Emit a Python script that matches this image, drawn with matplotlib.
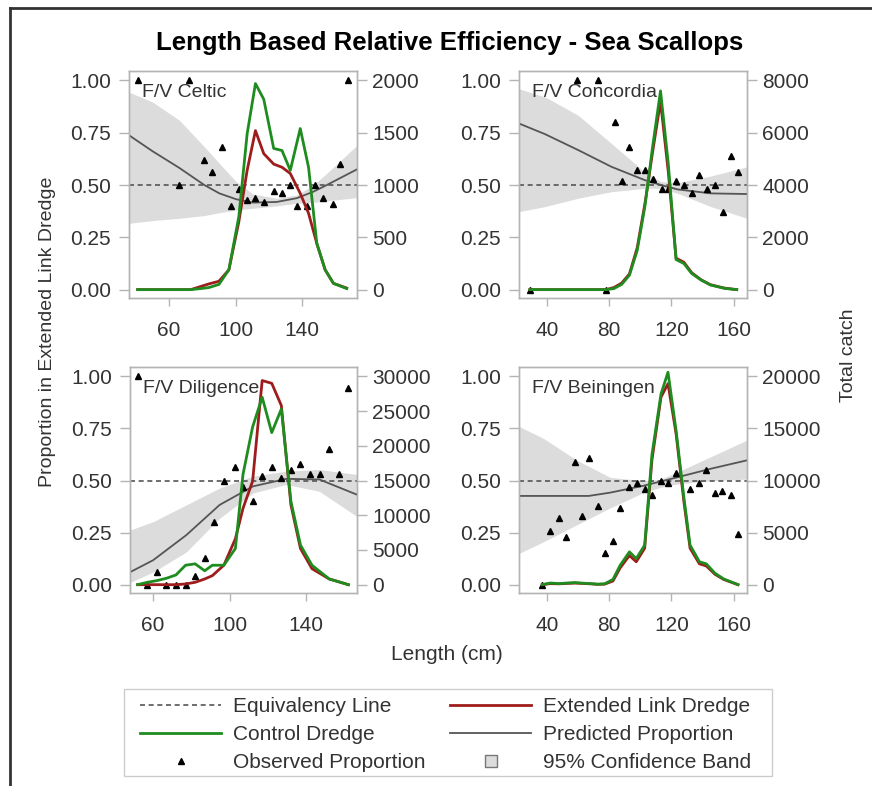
import numpy as np
import matplotlib
matplotlib.use("Agg")
import matplotlib.pyplot as plt
from matplotlib.lines import Line2D
from matplotlib.patches import Rectangle

plt.rcParams['font.family'] = ['Liberation Sans', 'DejaVu Sans']

# ---------------- data ----------------
# F/V Celtic
celtic_obs_len = [41, 66, 72, 81, 86, 92, 97, 102, 107, 112, 117, 123, 128, 133, 137, 143, 148, 153, 159, 163, 168]
celtic_obs_prop = [1.0, 0.50, 1.0, 0.62, 0.56, 0.68, 0.40, 0.48, 0.43, 0.44, 0.42, 0.47, 0.46, 0.50, 0.40, 0.40,
                   0.50, 0.44, 0.41, 0.60, 1.0]
celtic_fit_len = [35.8, 49.9, 66.1, 81.2, 90.3, 100.4, 110.5, 124.7, 136.8, 146.9, 155.0, 173.2]
celtic_fit = [0.738, 0.662, 0.582, 0.50, 0.46, 0.432, 0.416, 0.419, 0.437, 0.468, 0.50, 0.575]
celtic_upper = [0.944, 0.897, 0.81, 0.683, 0.603, 0.516, 0.457, 0.437, 0.452, 0.50, 0.556, 0.69]
celtic_lower = [0.317, 0.33, 0.341, 0.354, 0.368, 0.381, 0.389, 0.40, 0.413, 0.417, 0.424, 0.44]
celtic_len = [41, 73, 79, 84, 90, 96, 102, 107, 112, 117, 123, 128, 133, 139, 144, 149, 154, 159, 167]
celtic_ext = [0, 0, 30, 55, 80, 190, 650, 1140, 1520, 1300, 1200, 1170, 1110, 920, 730, 440, 190, 60, 15]
celtic_ctl = [0, 0, 10, 20, 50, 190, 700, 1490, 1970, 1820, 1350, 1330, 1140, 1540, 1170, 440, 190, 60, 10]

# F/V Concordia
concordia_obs_len = [29, 59, 73, 78, 84, 88, 93, 98, 103, 108, 114, 118, 123, 128, 133, 138, 143, 148, 153, 158, 163]
concordia_obs_prop = [0.0, 1.0, 1.0, 0.0, 0.80, 0.52, 0.68, 0.57, 0.57, 0.53, 0.48, 0.48, 0.52, 0.50, 0.46, 0.55,
                      0.48, 0.50, 0.37, 0.64, 0.56]
concordia_fit_len = [22, 38.8, 60.1, 81.5, 102.7, 113.4, 124, 145.3, 168.6]
concordia_fit = [0.794, 0.743, 0.667, 0.587, 0.524, 0.50, 0.479, 0.46, 0.457]
concordia_upper = [0.96, 0.921, 0.833, 0.698, 0.563, 0.516, 0.511, 0.543, 0.587]
concordia_lower = [0.373, 0.397, 0.437, 0.468, 0.484, 0.484, 0.46, 0.397, 0.341]
concordia_len = [29, 78, 83, 88, 93, 98, 103, 108, 113, 118, 123, 128, 133, 139, 145, 154, 162]
concordia_ext = [0, 0, 80, 250, 600, 1600, 3300, 5300, 7200, 4500, 1200, 1050, 650, 380, 190, 60, 0]
concordia_ctl = [0, 0, 40, 200, 550, 1500, 3200, 5500, 7600, 4800, 1150, 1000, 620, 370, 180, 50, 0]

# F/V Diligence
diligence_obs_len = [52, 57, 62, 67, 72, 77, 82, 87, 92, 97, 103, 107, 112, 117, 122, 127, 132, 137, 142, 147, 152,
                     157, 162]
diligence_obs_prop = [1.0, 0.0, 0.06, 0.0, 0.0, 0.0, 0.04, 0.13, 0.30, 0.50, 0.565, 0.47, 0.40, 0.52, 0.565, 0.51,
                      0.55, 0.58, 0.53, 0.53, 0.65, 0.53, 0.945]
diligence_fit_len = [48, 60, 77.4, 94.8, 112.2, 129.6, 146.9, 166.5]
diligence_fit = [0.06, 0.117, 0.238, 0.383, 0.472, 0.508, 0.505, 0.432]
diligence_upper = [0.262, 0.302, 0.383, 0.464, 0.521, 0.545, 0.553, 0.529]
diligence_lower = [0.011, 0.06, 0.157, 0.319, 0.44, 0.481, 0.448, 0.327]
diligence_len = [52, 57, 62, 67, 72, 77, 82, 87, 91, 97, 103, 107, 112, 117, 122, 127, 132, 137, 143, 152, 162]
diligence_ext = [0, 0, 0, 0, 0, 100, 340, 820, 1300, 2800, 6600, 11000, 14900, 29400, 29000, 25800, 11500, 5200,
                 2300, 820, 0]
diligence_ctl = [0, 340, 580, 920, 1400, 2800, 3000, 2000, 2800, 2800, 5200, 15900, 22700, 27000, 21900, 25300,
                 12000, 5700, 2800, 820, 0]

# F/V Beiningen
beiningen_obs_len = [37, 42, 47.5, 52, 58, 62.5, 67, 72.6, 77, 82.4, 87, 93, 98, 103, 107.5, 113, 118, 123, 132,
                     138, 142, 148, 152.5, 158, 163]
beiningen_obs_prop = [0.0, 0.26, 0.32, 0.23, 0.59, 0.33, 0.61, 0.38, 0.15, 0.21, 0.37, 0.47, 0.49, 0.46, 0.43, 0.50,
                      0.49, 0.535, 0.46, 0.49, 0.55, 0.44, 0.45, 0.43, 0.245]
beiningen_fit_len = [22, 66.8, 80.7, 102.1, 123.6, 145, 168.6]
beiningen_fit = [0.426, 0.426, 0.442, 0.475, 0.515, 0.556, 0.597]
beiningen_band_len = [22, 37.8, 59.3, 80.7, 102.1, 112.8, 123.6, 145, 168.6]
beiningen_upper = [0.76, 0.702, 0.597, 0.515, 0.499, 0.505, 0.54, 0.613, 0.694]
beiningen_lower = [0.15, 0.206, 0.288, 0.369, 0.442, 0.467, 0.483, 0.499, 0.507]
beiningen_len = [37, 42, 47.5, 53, 58, 62.5, 68, 72.6, 77, 82.4, 87, 93, 97.4, 102.8, 107.5, 113.3, 117.8, 123, 128,
                 132, 138, 142.4, 148, 153.6, 162.8]
beiningen_ext = [0, 100, 80, 120, 150, 120, 80, 30, 50, 350, 1600, 2800, 2200, 3500, 12000, 18000, 19300, 14500,
                 8000, 3500, 2000, 1800, 1000, 500, 0]
beiningen_ctl = [0, 160, 100, 160, 200, 150, 100, 50, 80, 500, 1850, 3150, 2500, 3800, 12500, 18300, 20400, 14800,
                 8400, 3800, 2200, 2000, 1100, 550, 0]

prop_ticks = [0.0, 0.25, 0.5, 0.75, 1.0]

# ---------------- styling ----------------
W, H = 872, 786
RED = '#9e1c1c'
GREEN = '#1f8c1f'
BAND = '#dcdcdc'
FIT = '#555555'
SPINE = '#b4b4b4'
TXT = '#333333'
FS = 15
YLIM = (-0.04, 1.045)

fig = plt.figure(figsize=(W / 100, H / 100), dpi=100)


def box(l, t, r, b):
    return [l / W, 1 - b / H, (r - l) / W, (b - t) / H]


def draw_panel(rect, name, xlim, xticks, cticks, obs_len, obs_prop, fit_len, fit, band_len, upper, lower,
               cat_len, ext, ctl):
    ax = fig.add_axes(box(*rect))
    ax.fill_between(band_len, lower, upper, color=BAND, lw=0, zorder=1)
    ax.axhline(0.5, color=FIT, lw=1.2, ls=(0, (3, 2.2)), zorder=2)
    ax.plot(fit_len, fit, color=FIT, lw=1.3, zorder=3)
    ax.plot(obs_len, obs_prop, ls='none', marker='^', ms=4.8, color='black', zorder=4)
    ax.set_xlim(xlim)
    ax.set_ylim(YLIM)
    ax.set_xticks(xticks)
    ax.set_yticks(prop_ticks)
    ax.set_yticklabels([f'{v:.2f}' for v in prop_ticks])
    ax.tick_params(axis='x', length=6, width=1, color=SPINE, pad=10.5, labelsize=FS, labelcolor=TXT)
    ax.tick_params(axis='y', length=7, width=1, color=SPINE, pad=6, labelsize=FS, labelcolor=TXT)
    ax.text(0.057, 0.905, name, transform=ax.transAxes, fontsize=14, color=TXT, va='center', ha='left', zorder=5)

    ax2 = ax.twinx()
    cmax = cticks[-1]
    ax2.set_ylim(YLIM[0] * cmax, YLIM[1] * cmax)
    ax2.plot(cat_len, ext, color=RED, lw=2.0)
    ax2.plot(cat_len, ctl, color=GREEN, lw=2.0)
    ax2.set_yticks(cticks)
    ax2.set_yticklabels([str(v) for v in cticks])
    ax2.tick_params(axis='y', length=7, width=1, color=SPINE, pad=4, labelsize=FS, labelcolor=TXT)
    for a in (ax, ax2):
        for s in a.spines.values():
            s.set_color(SPINE)
            s.set_linewidth(1.0)


draw_panel((129, 71, 357, 298), 'F/V Celtic', (35.8, 173.2), [60, 100, 140], [0, 500, 1000, 1500, 2000],
           celtic_obs_len, celtic_obs_prop, celtic_fit_len, celtic_fit, celtic_fit_len, celtic_upper, celtic_lower,
           celtic_len, celtic_ext, celtic_ctl)
draw_panel((519, 71, 747, 298), 'F/V Concordia', (22, 168.6), [40, 80, 120, 160], [0, 2000, 4000, 6000, 8000],
           concordia_obs_len, concordia_obs_prop, concordia_fit_len, concordia_fit, concordia_fit_len,
           concordia_upper, concordia_lower, concordia_len, concordia_ext, concordia_ctl)
draw_panel((130, 367, 357, 593), 'F/V Diligence', (48, 166.5), [60, 100, 140],
           [0, 5000, 10000, 15000, 20000, 25000, 30000],
           diligence_obs_len, diligence_obs_prop, diligence_fit_len, diligence_fit, diligence_fit_len,
           diligence_upper, diligence_lower, diligence_len, diligence_ext, diligence_ctl)
draw_panel((519, 367, 747, 593), 'F/V Beiningen', (22, 168.6), [40, 80, 120, 160],
           [0, 5000, 10000, 15000, 20000],
           beiningen_obs_len, beiningen_obs_prop, beiningen_fit_len, beiningen_fit, beiningen_band_len,
           beiningen_upper, beiningen_lower, beiningen_len, beiningen_ext, beiningen_ctl)

# titles and axis labels
fig.text(450 / W, 1 - 43 / H, 'Length Based Relative Efficiency - Sea Scallops', fontsize=18.5, fontweight='bold',
         ha='center', va='center', color='black')
fig.text(48 / W, 1 - 332 / H, 'Proportion in Extended Link Dredge', rotation=90, fontsize=14, color=TXT,
         ha='center', va='center')
fig.text(848 / W, 1 - 355 / H, 'Total catch', rotation=90, fontsize=14, color=TXT, ha='center', va='center')
fig.text(447 / W, 1 - 655 / H, 'Length (cm)', fontsize=15, color=TXT, ha='center', va='center')

# legend
handles = [
    Line2D([], [], color=FIT, lw=1.2, ls=(0, (3, 2.2))),
    Line2D([], [], color=GREEN, lw=2.0),
    Line2D([], [], ls='none', marker='^', ms=4.5, color='black'),
    Line2D([], [], color=RED, lw=2.0),
    Line2D([], [], color=FIT, lw=1.3),
    Line2D([], [], ls='none', marker='s', ms=9, mfc=BAND, mec='#777777', mew=1.0),
]
labels = ['Equivalency Line', 'Control Dredge', 'Observed Proportion',
          'Extended Link Dredge', 'Predicted Proportion', '95% Confidence Band']
leg = fig.legend(handles, labels, loc='upper left', bbox_to_anchor=(140 / W, 1 - 697 / H), ncol=2,
                 frameon=False, fontsize=15, handlelength=3.9, handletextpad=0.55, columnspacing=1.2,
                 labelspacing=0.44, borderpad=0, borderaxespad=0)
for t in leg.get_texts():
    t.set_color(TXT)
fig.add_artist(Rectangle((124 / W, 1 - 776 / H), 648 / W, 87 / H, transform=fig.transFigure,
                         fill=False, edgecolor='#cccccc', lw=1.0))

# outer frame (left and top edges visible in the source)
fig.add_artist(Line2D([10 / W, 10 / W], [0, 1 - 8 / H], transform=fig.transFigure, color='#333333', lw=2.0))
fig.add_artist(Line2D([10 / W, 1], [1 - 8 / H, 1 - 8 / H], transform=fig.transFigure, color='#333333', lw=2.0))

fig.savefig('out.png', dpi=100)
